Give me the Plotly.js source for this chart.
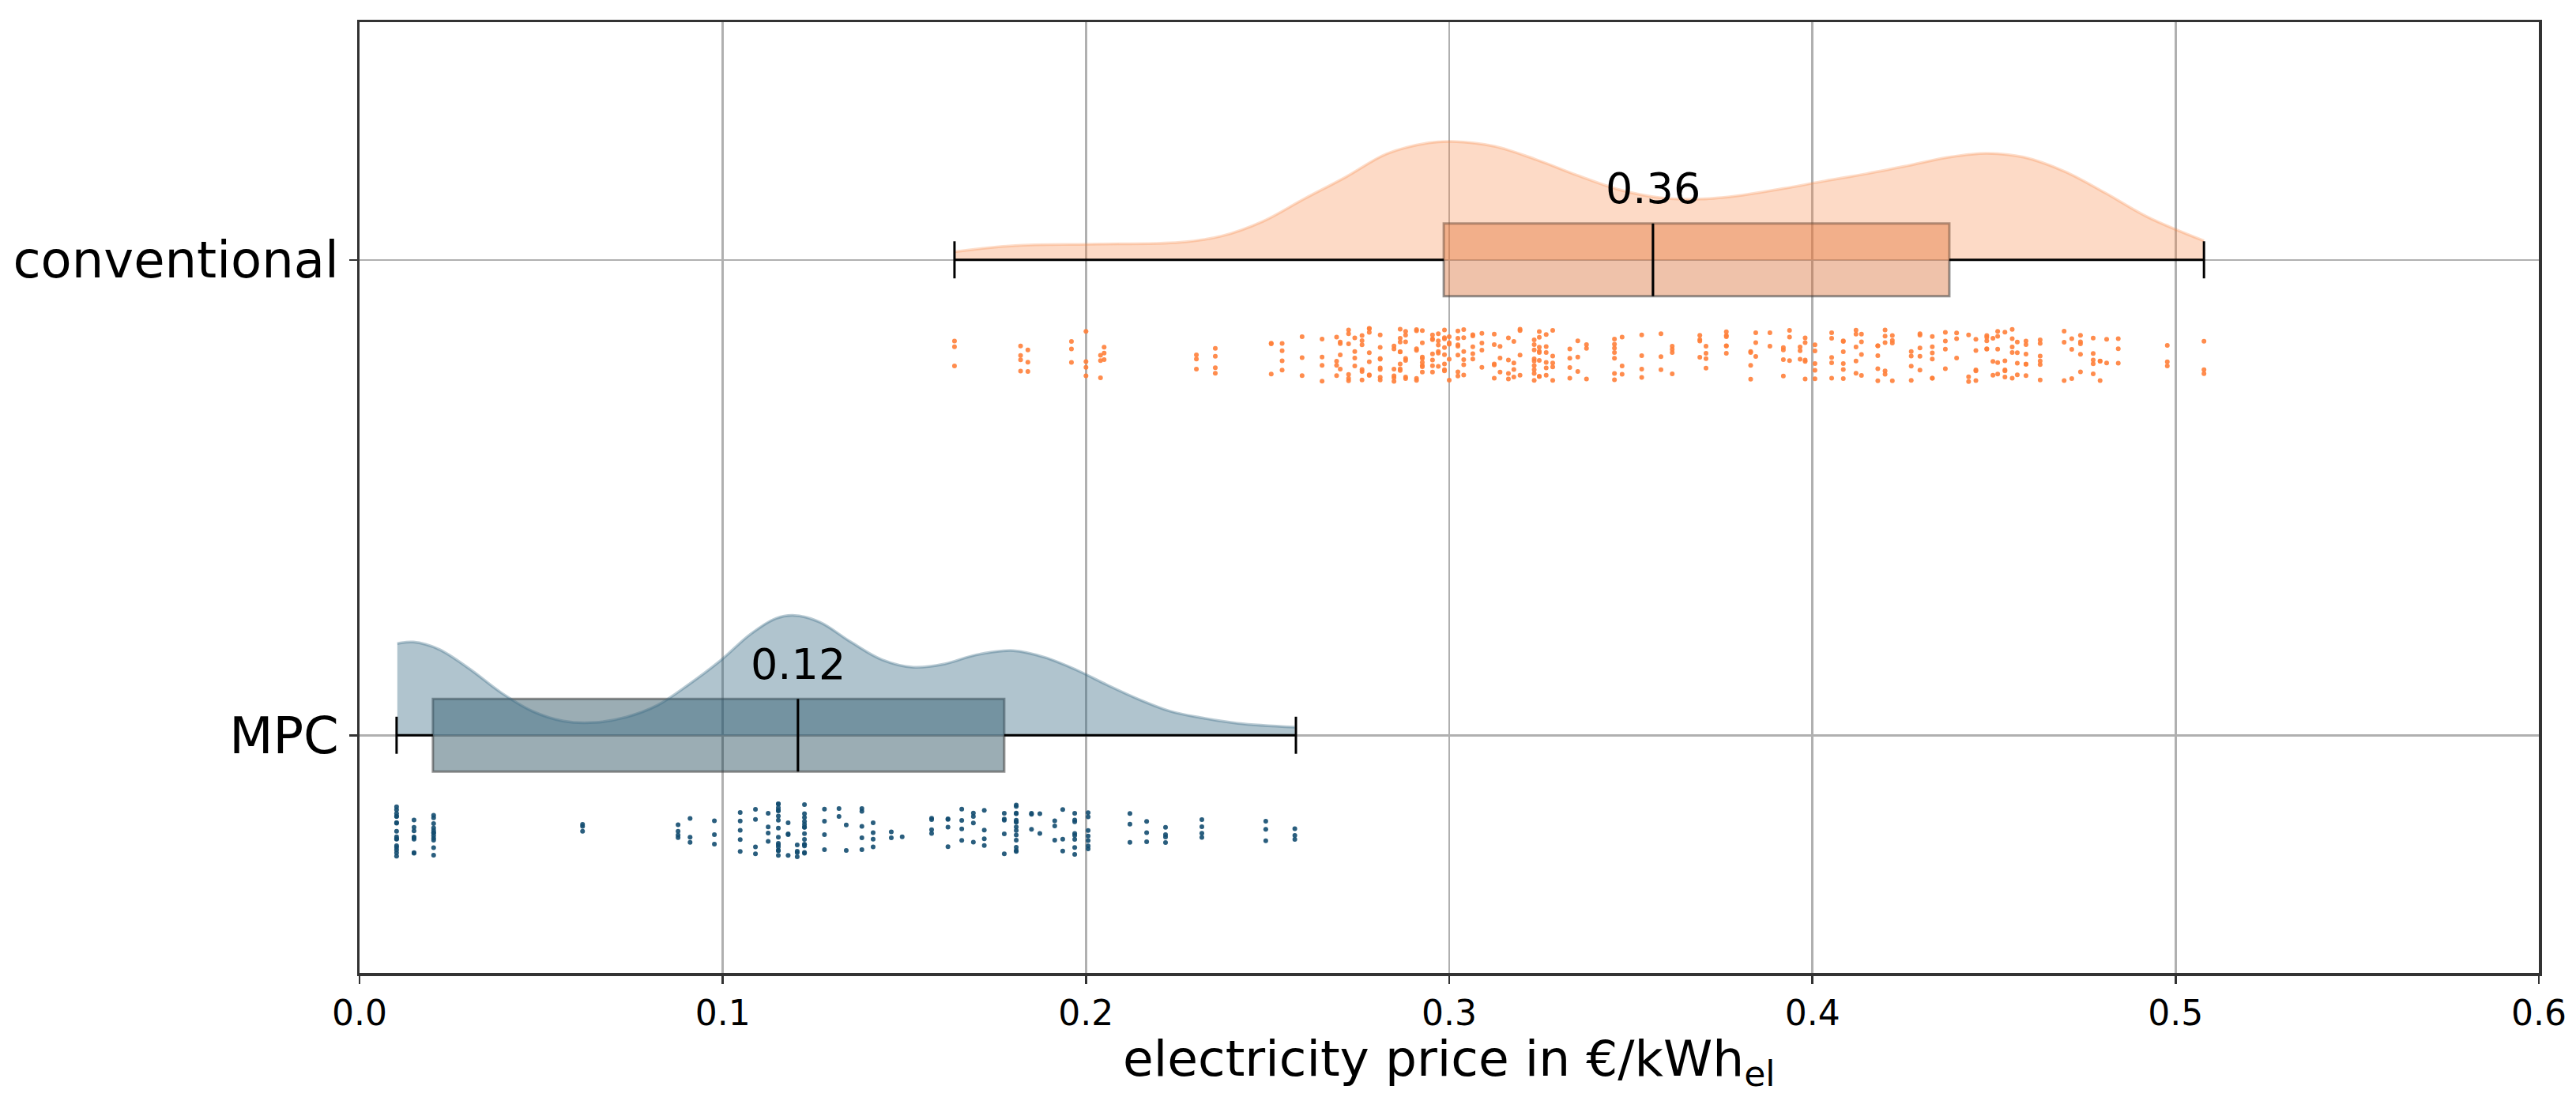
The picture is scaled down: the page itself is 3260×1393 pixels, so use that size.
<!DOCTYPE html>
<html><head><meta charset="utf-8">
<script src="https://cdn.plot.ly/plotly-3.0.1.min.js"></script>
<style>html,body{margin:0;padding:0;background:#fff}</style>
</head><body><div id="chart" style="width:3260px;height:1393px"></div>
<script>
// ---------- data ----------
const categories = ['MPC', 'conventional'];
const xTickVals = [0, 0.1, 0.2, 0.3, 0.4, 0.5, 0.6];
const xTitle = 'electricity price in €/kWh<sub>el</sub>';

// box statistics (index 0 = MPC, 1 = conventional)
const q1 = [0.0202, 0.2985];
const median = [0.1207, 0.3561];
const q3 = [0.1775, 0.4377];
const lowerWhisker = [0.0102, 0.1638];
const upperWhisker = [0.2578, 0.5078];

// half-violin density outline (height in category units)
const mpcDensX = [0.0104,0.0148,0.0218,0.0302,0.0389,0.0475,0.0561,0.0647,0.0733,0.082,0.0905,0.0992,0.1077,0.1147,0.1198,0.1267,0.1353,0.1438,0.1525,0.1611,0.1697,0.18,0.1886,0.1972,0.2058,0.2144,0.223,0.2316,0.2419,0.2575];
const mpcDensH = [0.193,0.196,0.181,0.140,0.090,0.051,0.030,0.027,0.038,0.063,0.106,0.156,0.213,0.246,0.252,0.238,0.196,0.159,0.143,0.150,0.169,0.178,0.164,0.138,0.106,0.076,0.051,0.037,0.025,0.017];
const convDensX = [0.1638,0.1805,0.201,0.226,0.2373,0.2487,0.260,0.2715,0.2828,0.2943,0.301,0.3124,0.3239,0.3352,0.3466,0.3578,0.3694,0.3807,0.392,0.4035,0.4148,0.4262,0.4377,0.4479,0.4581,0.4694,0.4808,0.4923,0.5078];
const convDensH = [0.017,0.030,0.033,0.037,0.050,0.081,0.128,0.174,0.223,0.246,0.249,0.239,0.211,0.178,0.148,0.131,0.128,0.136,0.150,0.166,0.181,0.198,0.216,0.224,0.216,0.186,0.140,0.090,0.040];

// strip plot: observed price levels and how many dots sit at each level
const mpcLevels = [0.0102,0.015,0.0204,0.0614,0.0877,0.091,0.0977,0.1048,0.109,0.1125,0.1153,0.118,0.1205,0.1225,0.128,0.132,0.134,0.1383,0.1414,0.1464,0.1494,0.1575,0.162,0.1658,0.169,0.172,0.1775,0.1808,0.185,0.1873,0.1914,0.1936,0.1969,0.2006,0.2121,0.2167,0.2219,0.2319,0.2495,0.2575];
const mpcCounts = [16,8,12,3,4,3,3,5,4,4,15,4,4,14,4,2,2,5,4,2,1,4,4,4,4,4,5,14,3,2,3,3,8,7,3,3,4,4,3,3];
const convLevels = [0.1638,0.182,0.184,0.196,0.2,0.204,0.205,0.2304,0.2356,0.251,0.254,0.2595,0.265,0.269,0.270,0.2723,0.274,0.276,0.278,0.281,0.2848,0.2865,0.288,0.291,0.2926,0.2954,0.297,0.2987,0.3,0.3024,0.304,0.3065,0.309,0.3124,0.314,0.3163,0.3178,0.3195,0.3234,0.3248,0.3267,0.3285,0.3332,0.3354,0.3378,0.3455,0.3476,0.353,0.3583,0.3614,0.369,0.3707,0.3763,0.383,0.3844,0.3883,0.392,0.3937,0.3966,0.398,0.4007,0.4053,0.4085,0.412,0.4135,0.418,0.42,0.422,0.4272,0.4296,0.433,0.4366,0.4397,0.443,0.445,0.448,0.4497,0.451,0.453,0.455,0.4564,0.4588,0.4627,0.4693,0.4714,0.4738,0.4773,0.4792,0.481,0.4842,0.4977,0.5078];
const convCounts = [3,4,3,3,4,3,3,3,4,3,4,3,4,4,4,6,4,6,7,8,6,8,7,6,8,7,6,8,5,7,6,5,4,5,3,4,4,4,9,8,6,5,4,3,3,7,3,4,3,4,4,4,6,4,3,2,4,3,3,5,5,5,6,5,4,5,5,4,4,5,6,4,3,3,5,5,3,5,5,5,4,6,6,3,3,5,5,3,2,3,3,3];

// ---------- styling ----------
const FONT = 'DejaVu Sans';
const styles = [
  {violinFill:'rgba(57,107,132,0.40)', violinLine:'rgba(57,107,132,0.35)', boxFill:'rgba(11,55,74,0.41)', dot:'#134d70'},
  {violinFill:'rgba(248,132,65,0.30)', violinLine:'rgba(248,132,65,0.28)', boxFill:'rgba(216,108,48,0.41)', dot:'#ff7f3a'}
];
const BOX_W = 0.153, CAP_H = 0.039;

function expand(levels, counts) {
  const out = [];
  levels.forEach((v, i) => { for (let k = 0; k < counts[i]; k++) out.push(v); });
  return out;
}
const points = [expand(mpcLevels, mpcCounts), expand(convLevels, convCounts)];
const densX = [mpcDensX, convDensX];
const densH = [mpcDensH, convDensH];

const traces = [];
const annotations = [];
categories.forEach((cat, i) => {
  const c = i; // numeric position of category
  const st = styles[i];
  const dx = densX[i], dh = densH[i];
  // violin baseline
  traces.push({type:'scatter', mode:'lines', x:[dx[0], dx[dx.length-1]], y:[c, c],
    line:{width:0, color:'rgba(0,0,0,0)'}, hoverinfo:'skip', showlegend:false});
  // violin outline
  traces.push({type:'scatter', mode:'lines', x:dx, y:dh.map(h => c + h), fill:'tonexty',
    fillcolor:st.violinFill, line:{color:st.violinLine, width:3.5, shape:'spline', smoothing:1},
    hoverinfo:'skip', showlegend:false});
});
categories.forEach((cat, i) => {
  const c = i, st = styles[i];
  // box body
  traces.push({type:'box', orientation:'h', y:[c], q1:[q1[i]], median:[median[i]], q3:[q3[i]],
    lowerfence:[q1[i]], upperfence:[q3[i]], width:BOX_W, whiskerwidth:0,
    fillcolor:st.boxFill, line:{color:'rgba(60,60,60,0.55)', width:3}, boxpoints:false,
    hoverinfo:'skip', showlegend:false});
  // whiskers, caps and median
  traces.push({type:'scatter', mode:'lines',
    x:[lowerWhisker[i], q1[i], null, q3[i], upperWhisker[i], null,
       lowerWhisker[i], lowerWhisker[i], null, upperWhisker[i], upperWhisker[i], null,
       median[i], median[i]],
    y:[c, c, null, c, c, null, c-CAP_H, c+CAP_H, null, c-CAP_H, c+CAP_H, null, c-BOX_W/2, c+BOX_W/2],
    line:{color:'#000', width:3}, hoverinfo:'skip', showlegend:false});
  // strip points
  traces.push({type:'box', orientation:'h', x:points[i], y0:c, width:0.2, boxpoints:'all',
    jitter:0.56, pointpos:-2, fillcolor:'rgba(0,0,0,0)', line:{width:0, color:'rgba(0,0,0,0)'},
    marker:{size:6, color:st.dot, opacity:0.9}, hoverinfo:'skip', showlegend:false});
  annotations.push({x:median[i], y:c + 0.15, xref:'x', yref:'y', text:median[i].toFixed(2),
    showarrow:false, xanchor:'center', yanchor:'middle', font:{family:FONT, size:54, color:'#000'}});
});
// x-axis title placed as a paper annotation for exact vertical position
annotations.push({x:0.5, y:0, xref:'paper', yref:'paper', yshift:-112, text:xTitle, showarrow:false,
  xanchor:'center', yanchor:'middle', font:{family:FONT, size:63, color:'#000'}});

const layout = {
  width:3260, height:1393,
  margin:{l:455, r:47, t:28, b:162, pad:0},
  paper_bgcolor:'#fff', plot_bgcolor:'#fff',
  boxmode:'overlay', showlegend:false,
  font:{family:FONT, color:'#000'},
  xaxis:{range:[0, 0.6], tickvals:xTickVals, tickformat:'.1f', showgrid:true, gridcolor:'#b0b0b0', gridwidth:2.5,
    zeroline:false, showline:true, mirror:true, linecolor:'#333', linewidth:3.5,
    ticks:'outside', ticklen:10, tickwidth:2.5, tickcolor:'#333', tickfont:{family:FONT, size:44, color:'#000'},
    automargin:false},
  yaxis:{range:[-0.5, 1.5], tickvals:[0, 1], ticktext:categories, showgrid:true, gridcolor:'#b0b0b0', gridwidth:2.5,
    zeroline:false, showline:true, mirror:true, linecolor:'#333', linewidth:3.5,
    ticks:'outside', ticklen:10, tickwidth:2.5, tickcolor:'#333', tickfont:{family:FONT, size:64, color:'#000'},
    automargin:false},
  annotations:annotations
};
Plotly.newPlot('chart', traces, layout, {staticPlot:true, displayModeBar:false});
</script></body></html>
